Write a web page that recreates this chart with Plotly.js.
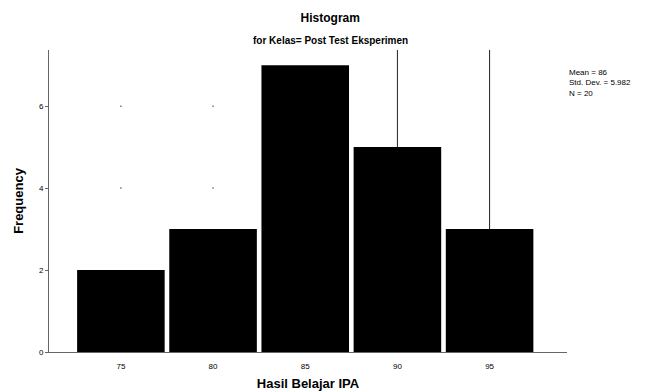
<!DOCTYPE html>
<html><head><meta charset="utf-8">
<script src="https://cdn.plot.ly/plotly-3.0.1.min.js"></script>
<style>html,body{margin:0;padding:0;background:#fff}#chart{width:654px;height:391px}</style>
</head><body><div id="chart"></div>
<script>
var binCenters = [75, 80, 85, 90, 95];
var frequencies = [2, 3, 7, 5, 3];
var yTicks = [0, 2, 4, 6];
var xTicks = [75, 80, 85, 90, 95];
var statsLines = ["Mean = 86", "Std. Dev. = 5.982", "N = 20"];
var gridLineX = [90, 95];
var gridDotX = [75, 75, 80, 80];
var gridDotY = [4, 6, 4, 6];

var yTop = 7.37;
var FONT = "Liberation Sans, Arial, sans-serif";

var traces = [{
  type: 'bar', x: binCenters, y: frequencies, width: 4.75,
  marker: {color: '#000', line: {width: 0}}, hoverinfo: 'x+y'
}, {
  type: 'scatter', mode: 'markers', x: gridDotX, y: gridDotY,
  marker: {color: '#777', size: 1.5, symbol: 'square'}, hoverinfo: 'skip'
}];
gridLineX.forEach(function (gx) {
  var idx = binCenters.indexOf(gx);
  traces.push({
    type: 'scatter', mode: 'lines', x: [gx, gx], y: [frequencies[idx], yTop],
    line: {color: '#222', width: 1}, hoverinfo: 'skip'
  });
});

var layout = {
  width: 654, height: 391,
  margin: {l: 49, r: 87, t: 50, b: 39},
  paper_bgcolor: '#fff', plot_bgcolor: '#fff',
  showlegend: false,
  font: {family: FONT, color: '#000'},
  title: {text: '<b>Histogram</b>', font: {size: 12, family: FONT}, xref: 'container', x: 0.505, xanchor: 'center', yref: 'container', y: 1 - 18 / 391, yanchor: 'middle'},
  xaxis: {
    range: [71.1, 99.2], tickvals: xTicks, ticktext: xTicks.map(String),
    showgrid: false, zeroline: false, showline: true, linecolor: '#666', linewidth: 1,
    ticks: '', tickfont: {size: 8}, ticklabelstandoff: 6,
    title: {text: '<b>Hasil Belajar IPA</b>', font: {size: 13}, standoff: 10}
  },
  yaxis: {
    range: [0, yTop], tickvals: yTicks, ticktext: yTicks.map(String),
    showgrid: false, zeroline: false, showline: true, linecolor: '#666', linewidth: 1,
    ticks: 'outside', ticklen: 3, tickcolor: '#666', tickfont: {size: 8},
    title: {text: '<b>Frequency</b>', font: {size: 13}, standoff: 12}
  },
  annotations: [{
    text: '<b>for Kelas= Post Test Eksperimen</b>', xref: 'paper', yref: 'paper',
    x: (330 - 49) / 518, y: 1 + 9 / 302, xanchor: 'center', yanchor: 'middle',
    showarrow: false, font: {size: 10, family: FONT}
  }, {
    text: statsLines.join('<br>'), xref: 'paper', yref: 'paper',
    x: 1, y: 1 - 16 / 302, xanchor: 'left', yanchor: 'top', align: 'left',
    showarrow: false, font: {size: 8, family: FONT}
  }]
};
Plotly.newPlot('chart', traces, layout, {displayModeBar: false, staticPlot: true});
</script></body></html>
